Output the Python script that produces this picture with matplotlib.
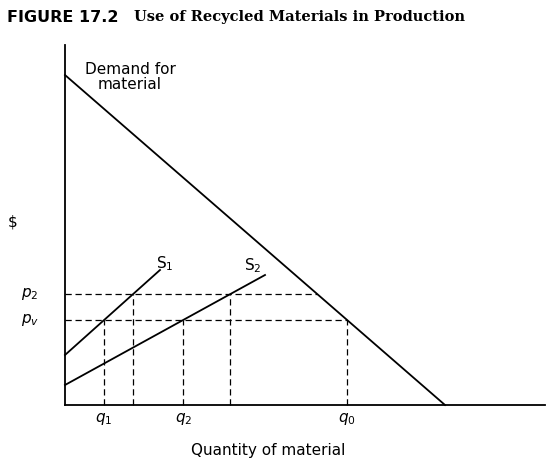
import matplotlib
matplotlib.use("Agg")
import matplotlib.pyplot as plt
import numpy as np

# Schematic values (axis units)
demand = [(0, 330), (380, 0)]
s1 = [(0, 50), (95, 135)]
s2 = [(0, 20), (200, 130)]
p_levels = [111, 85]
p_labels = ["$p_2$", "$p_v$"]
q_labels = ["$q_1$", "$q_2$", "$q_0$"]

def x_at(line, y):
    (x0, y0), (x1, y1) = line
    return x0 + (y - y0) * (x1 - x0) / (y1 - y0)

fig = plt.figure(figsize=(5.48, 4.66), dpi=100)
ax = fig.add_axes([0, 0, 1, 1])
ax.set_xlim(-65, 483)
ax.set_ylim(-61, 405)
ax.axis("off")

# axes
ax.plot([0, 0], [0, 360], color="black", lw=1.3)
ax.plot([0, 480], [0, 0], color="black", lw=1.3)

for ln in (demand, s1, s2):
    ax.plot([ln[0][0], ln[1][0]], [ln[0][1], ln[1][1]], color="black", lw=1.3)

dash = dict(color="black", lw=0.9, ls=(0, (5, 3)))
p2, pv = p_levels
# p2 line to demand
ax.plot([0, x_at(demand, p2)], [p2, p2], **dash)
ax.plot([0, x_at(demand, pv)], [pv, pv], **dash)
for ln in (s1, s2):
    for p in p_levels:
        x = x_at(ln, p)
        ax.plot([x, x], [0, p], **dash)
xq0 = x_at(demand, pv)
ax.plot([xq0, xq0], [0, pv], **dash)

for p, lab in zip(p_levels, p_labels):
    ax.text(-35, p, lab, fontsize=11, ha="center", va="center", family="DejaVu Serif")
qx = [x_at(s1, pv), x_at(s2, pv), xq0]
for x, lab in zip(qx, q_labels):
    ax.text(x, -14, lab, fontsize=11, ha="center", va="center", family="DejaVu Serif")

ax.text(-52, 183, "$", fontsize=11, ha="center", va="center")
ax.text(203, -45, "Quantity of material", fontsize=11, ha="center", va="center")
ax.text(65, 328, "Demand for\nmaterial", fontsize=11, ha="center", va="center", linespacing=1.0)
ax.text(100, 141, "S$_1$", fontsize=11, ha="center", va="center")
ax.text(188, 139, "S$_2$", fontsize=11, ha="center", va="center")

fig.text(0.012, 0.963, "FIGURE 17.2", fontsize=11.5, fontweight="bold", va="center", family="DejaVu Sans")
fig.text(0.245, 0.963, "Use of Recycled Materials in Production", fontsize=10.5,
         fontweight="bold", va="center", family="DejaVu Serif")

fig.savefig("out.png", dpi=100)
